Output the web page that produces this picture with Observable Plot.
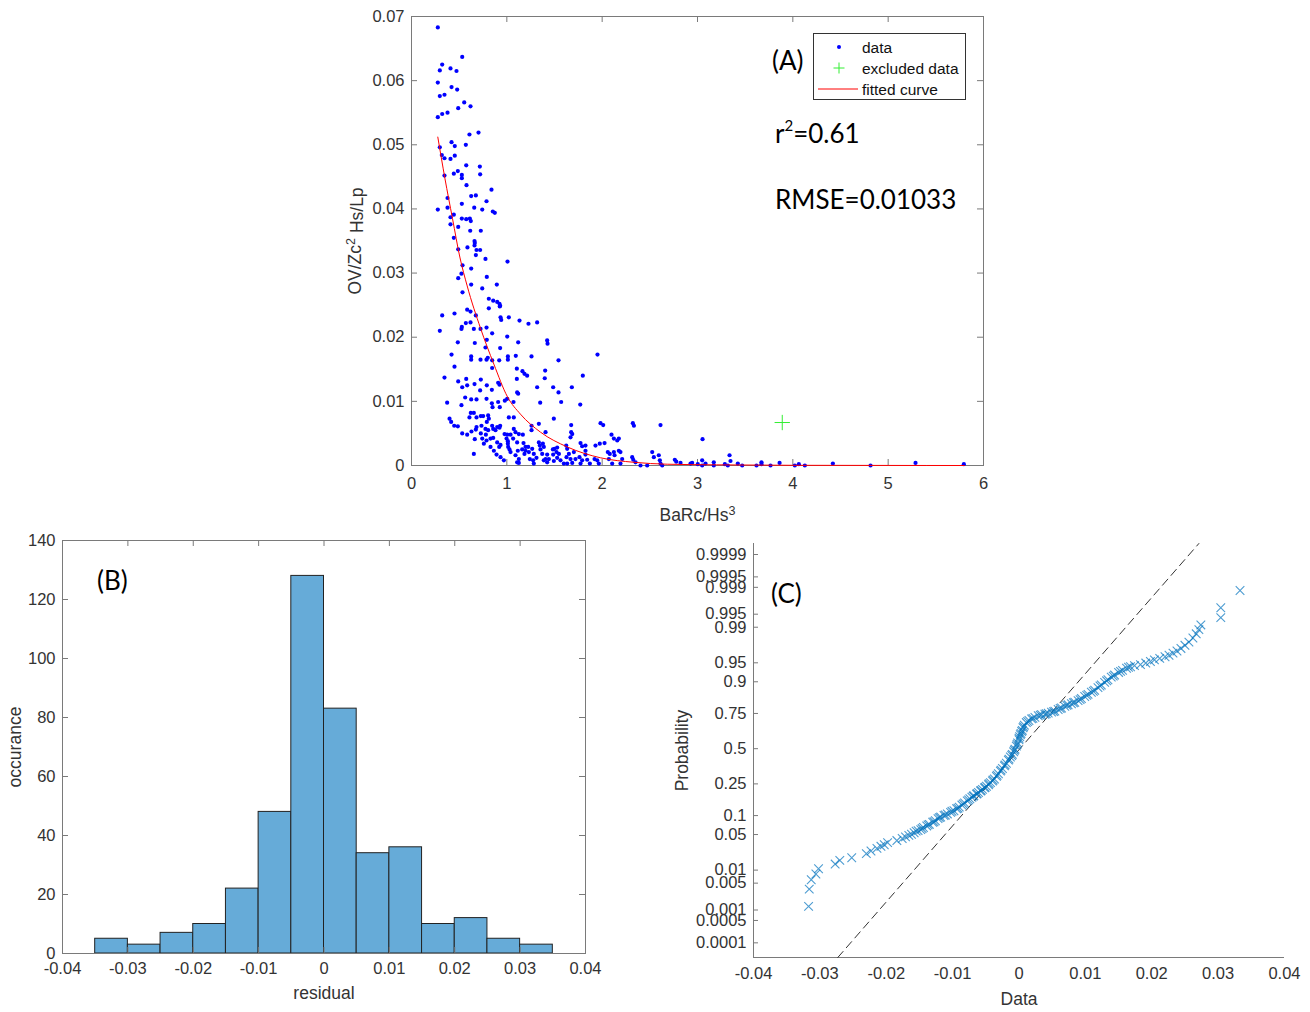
<!DOCTYPE html>
<html><head><meta charset="utf-8">
<script src="https://cdn.jsdelivr.net/npm/d3@7"></script>
<script src="https://cdn.jsdelivr.net/npm/@observablehq/plot@0.6"></script>
<style>
body{margin:0;background:#fff;}
#wrap{position:relative;width:1310px;height:1012px;overflow:hidden;font-family:"Liberation Sans",Arial,sans-serif;}
.panel{position:absolute;}
.ann{position:absolute;font-family:Lato,"Open Sans",sans-serif;font-size:26px;color:#000;line-height:1;white-space:nowrap;}
.ann sup{font-size:15px;position:relative;top:-2px;}
</style></head><body><div id="wrap"></div>
<script>
// ---------------- DATA ----------------
// Panel A: scatter (BaRc/Hs^3, OV/Zc^2 Hs/Lp)
const scatterPoints = [
[0.276,0.0683],[0.532,0.0637],[0.322,0.0625],[0.297,0.0616],[0.409,0.0619],[0.472,0.0615],[0.276,0.0597],[0.420,0.0590],[0.479,0.0586],[0.297,0.0576],[0.346,0.0578],[0.553,0.0566],[0.490,0.0557],[0.619,0.0560],[0.276,0.0543],[0.322,0.0548],[0.378,0.0550],[0.608,0.0516],[0.703,0.0519],[0.420,0.0504],[0.454,0.0498],[0.570,0.0500],[0.297,0.0496],[0.318,0.0484],[0.346,0.0479],[0.409,0.0478],[0.454,0.0483],[0.574,0.0468],[0.717,0.0466],[0.346,0.0452],[0.444,0.0455],[0.486,0.0459],[0.528,0.0453],[0.528,0.0448],[0.720,0.0454],[0.577,0.0437],[0.626,0.0420],[0.675,0.0421],[0.839,0.0430],[0.378,0.0417],[0.787,0.0412],[0.528,0.0408],[0.378,0.0402],[0.658,0.0402],[0.276,0.0399],[0.742,0.0399],[0.853,0.0396],[0.874,0.0394],[0.444,0.0391],[0.409,0.0387],[0.528,0.0385],[0.574,0.0384],[0.612,0.0385],[0.622,0.0381],[0.409,0.0376],[0.490,0.0372],[0.616,0.0366],[0.727,0.0366],[0.444,0.0355],[0.661,0.0350],[0.664,0.0347],[0.661,0.0343],[0.490,0.0337],[0.587,0.0340],[0.682,0.0336],[0.720,0.0336],[0.675,0.0328],[0.776,0.0322],
[0.535,0.0312],[0.490,0.0292],[0.524,0.0299],[0.626,0.0307],[1.007,0.0318],[0.790,0.0294],[0.626,0.0282],[0.742,0.0276],[0.895,0.0282],[0.535,0.0270],[0.811,0.0260],[0.857,0.0257],[0.899,0.0255],[0.923,0.0252],[0.926,0.0248],[0.930,0.0249],[0.811,0.0245],[0.584,0.0243],[0.619,0.0240],[0.451,0.0237],[0.322,0.0234],[0.675,0.0234],[0.934,0.0231],[0.941,0.0227],[1.021,0.0231],[1.133,0.0226],[1.227,0.0221],[1.318,0.0223],[0.570,0.0222],[0.528,0.0216],[0.524,0.0213],[0.619,0.0223],[0.654,0.0213],[0.724,0.0213],[0.787,0.0215],[0.846,0.0206],[0.297,0.0210],[0.486,0.0192],[0.790,0.0196],[1.004,0.0201],[0.664,0.0191],[1.119,0.0192],[1.423,0.0195],[1.427,0.0190],[0.776,0.0184],[0.930,0.0183],[0.420,0.0173],[0.626,0.0170],[0.626,0.0165],[1.011,0.0170],[1.011,0.0165],[1.094,0.0171],[1.259,0.0170],[1.951,0.0173],[0.724,0.0165],[0.787,0.0165],[0.800,0.0168],[0.846,0.0164],[0.920,0.0164],[1.542,0.0164],[0.451,0.0154],[0.846,0.0152],[1.105,0.0151],[1.164,0.0147],[1.185,0.0143],[1.213,0.0140],[1.402,0.0148],[1.797,0.0140],[0.346,0.0137],[0.574,0.0135],[0.727,0.0134],[1.105,0.0135],[1.398,0.0136],[0.490,0.0131],[0.532,0.0122],[0.584,0.0125],[0.661,0.0127],[0.790,0.0125],[0.909,0.0129],[0.923,0.0126],[1.318,0.0122],[1.486,0.0122],[1.682,0.0122],[1.542,0.0114],[0.720,0.0117],[0.843,0.0118],[1.108,0.0114],[1.119,0.0112],[0.563,0.0106],[0.626,0.0103],[0.682,0.0103],[0.787,0.0104],[0.979,0.0101],[1.004,0.0104],[0.524,0.0094],[0.374,0.0098],[0.843,0.0097],[0.909,0.0099],[0.926,0.0091],[1.070,0.0099],[1.350,0.0098],[1.570,0.0099],[1.770,0.0095],[0.850,0.0091],[0.622,0.0082],[0.654,0.0082],[0.399,0.0073],[0.416,0.0068],[0.727,0.0077],[0.752,0.0077],[0.804,0.0078],[1.021,0.0075],[1.073,0.0075],[0.448,0.0062],[0.486,0.0061],[0.608,0.0075],[0.682,0.0075],[0.682,0.0060],[0.734,0.0062],[0.790,0.0068],[0.811,0.0073],[0.846,0.0062],[0.857,0.0057],[0.881,0.0055],[0.899,0.0060],[0.923,0.0059],[0.930,0.0062],[0.776,0.0057],[0.804,0.0055],[0.727,0.0050],[0.780,0.0048],[0.629,0.0053],[0.675,0.0056],[0.532,0.0050],[0.584,0.0048],[0.742,0.0042],[0.787,0.0039],[0.829,0.0042],[0.857,0.0043],[0.664,0.0041],[0.899,0.0036],[0.920,0.0029],[0.934,0.0032],[0.976,0.0049],[1.004,0.0048],[1.039,0.0048],[0.997,0.0042],[1.011,0.0038],[1.011,0.0034],[1.014,0.0029],[1.028,0.0025],[0.654,0.0018],[0.892,0.0017],[1.073,0.0057],[1.091,0.0052],[1.126,0.0049],[1.168,0.0048],[1.066,0.0042],[1.108,0.0036],[1.115,0.0023],[1.175,0.0035],[1.196,0.0029],[1.161,0.0025],[1.108,0.0005],[1.126,0.0004],[1.185,0.0018],[1.259,0.0062],[1.259,0.0055],[1.224,0.0029],[1.231,0.0021],[1.266,0.0026],[1.283,0.0018],[1.311,0.0012],[1.276,0.0008],[1.336,0.0065],[1.336,0.0036],[1.346,0.0031],[1.378,0.0034],[1.353,0.0025],[1.388,0.0029],[1.371,0.0018],[1.406,0.0010],[1.423,0.0005],[1.406,0.0052],[1.493,0.0073],[1.483,0.0025],[1.500,0.0026],[1.528,0.0028],[1.521,0.0021],[1.486,0.0017],[1.528,0.0012],[1.493,0.0007],[1.441,0.0010],[1.623,0.0031],[1.633,0.0026],[1.651,0.0018],[1.626,0.0013],[1.668,0.0010],[1.686,0.0004],[1.633,0.0003],[1.675,0.0052],[1.686,0.0049],[1.668,0.0044],[1.675,0.0063],[1.773,0.0035],[1.790,0.0030],[1.825,0.0031],[1.762,0.0013],[1.790,0.0008],[1.773,0.0003],[1.825,0.0023],[1.825,0.0017],[1.843,0.0009],[1.871,0.0003],[1.930,0.0031],[1.975,0.0034],[2.025,0.0035],[1.948,0.0008],[1.965,0.0003],[1.920,0.0010],[1.983,0.0066],[2.011,0.0063],[2.098,0.0048],[2.123,0.0042],[2.158,0.0039],[2.175,0.0042],
[2.059,0.0021],[2.080,0.0018],[2.123,0.0021],[2.130,0.0016],[2.070,0.0010],[2.105,0.0003],[2.175,0.0023],[2.192,0.0021],[2.210,0.0010],[2.192,0.0003],[2.322,0.0066],[2.333,0.0062],[2.315,0.0013],[2.326,0.0009],[2.350,0.0005],[2.402,0.0000],[2.472,0.0000],[2.525,0.0021],[2.542,0.0013],[2.594,0.0016],[2.605,0.0008],[2.612,0.0003],[2.630,0.0000],[2.612,0.0063],[2.762,0.0009],[2.777,0.0006],[2.822,0.0004],[2.927,0.0003],
[1.039,0.0021],[1.091,0.0016],[1.126,0.0010],[1.196,0.0023],[1.241,0.0010],[1.283,0.0003],[1.388,0.0008],[1.423,0.0017],[1.546,0.0018],[1.563,0.0008],[1.598,0.0003],[1.703,0.0021],[1.720,0.0010],[0.934,0.0013],[0.969,0.0008],[0.864,0.0023],[0.829,0.0029],[0.759,0.0034],
[2.944,0.0004],[3.003,0.0002],[3.049,0.0008],[3.049,0.0000],[3.084,0.0003],[3.053,0.0041],[3.171,0.0005],[3.171,0.0000],[3.287,0.0002],[3.318,0.0000],[3.336,0.0016],[3.346,0.0007],[3.423,0.0003],[3.469,0.0000],[3.619,0.0000],[3.671,0.0005],[3.671,0.0002],[3.766,0.0000],[3.861,0.0004],[4.021,0.0000],[4.063,0.0002],[4.126,0.0000],[4.420,0.0003],[4.815,0.0000],[5.287,0.0004],[5.794,0.0002]
];
const excludedPoints = [[3.889,0.0067]];
const fitX = [0.276,0.35,0.43,0.507,0.584,0.724,0.864,1.007,1.143,1.353,1.633,1.983,2.333,2.682,3.2,4.0,5.0,5.8];
const fitY = [0.0512,0.0448,0.0385,0.0325,0.0280,0.0214,0.0158,0.0107,0.0080,0.0052,0.0029,0.0012,0.0005,0.0002,0.0001,0.00003,0.00001,0.0];
const aXTicks = [0,1,2,3,4,5,6];
const aXLabels = ["0","1","2","3","4","5","6"];
const aYTicks = [0,0.01,0.02,0.03,0.04,0.05,0.06,0.07];
const aYLabels = ["0","0.01","0.02","0.03","0.04","0.05","0.06","0.07"];

// Panel B: histogram of residuals
const binStarts = [-0.035,-0.03,-0.025,-0.02,-0.015,-0.01,-0.005,0,0.005,0.01,0.015,0.02,0.025,0.03];
const binCounts = [5,3,7,10,22,48,128,83,34,36,10,12,5,3];
const binWidth = 0.005;
const bXTicks = [-0.04,-0.03,-0.02,-0.01,0,0.01,0.02,0.03,0.04];
const bXLabels = ["-0.04","-0.03","-0.02","-0.01","0","0.01","0.02","0.03","0.04"];
const bYTicks = [0,20,40,60,80,100,120,140];
const bYLabels = ["0","20","40","60","80","100","120","140"];

// Panel C: normal probability plot (residual, normal quantile)
const qqPoints = [
[-0.0317,-3.02],[-0.0316,-2.69],[-0.0313,-2.51],[-0.0306,-2.40],[-0.0302,-2.30],[-0.0277,-2.21],[-0.0270,-2.14],[-0.0252,-2.09],[-0.0230,-2.01],[-0.0223,-1.96],[-0.0214,-1.91],[-0.0208,-1.87],[-0.0203,-1.84],[-0.0198,-1.80],[-0.0184,-1.76],[-0.0176,-1.72],[-0.0171,-1.69],[-0.0166,-1.66],[-0.0162,-1.64],[-0.0158,-1.61],[-0.0152,-1.57],[-0.0148,-1.55],[-0.0144,-1.51],[-0.0139,-1.48],[-0.0135,-1.45],[-0.0130,-1.41],[-0.0126,-1.38],[-0.0122,-1.34],[-0.0118,-1.31],[-0.0113,-1.28],[-0.0108,-1.25],[-0.0103,-1.22],[-0.0098,-1.19],[-0.0094,-1.15],[-0.0090,-1.12],[-0.0086,-1.08],[-0.0082,-1.04],[-0.0078,-1.00],[-0.0074,-0.96],[-0.0071,-0.93],[-0.0068,-0.90],[-0.0064,-0.87],[-0.0061,-0.84],[-0.0058,-0.81],[-0.0055,-0.78],[-0.0052,-0.75],[-0.0049,-0.72],[-0.0046,-0.69],[-0.0043,-0.65],[-0.0040,-0.62],[-0.0037,-0.58],[-0.0034,-0.53],[-0.0031,-0.48],[-0.0028,-0.43],[-0.0025,-0.38],[-0.0022,-0.33],[-0.0019,-0.28],[-0.0016,-0.22],[-0.0013,-0.16],[-0.0010,-0.11],[-0.0008,-0.06],[-0.0006,-0.01],[-0.0004,0.05],[-0.0002,0.11],[0.0000,0.17],[0.0001,0.23],[0.0003,0.29],[0.0005,0.35],[0.0006,0.40],[0.0008,0.45],[0.0011,0.50],[0.0015,0.54],[0.0019,0.57],[0.0024,0.60],[0.0029,0.63],[0.0034,0.65],[0.0039,0.66],[0.0044,0.68],[0.0049,0.70],[0.0054,0.72],[0.0059,0.75],[0.0064,0.78],[0.0069,0.81],[0.0074,0.84],[0.0079,0.86],[0.0084,0.89],[0.0089,0.92],[0.0094,0.96],[0.0099,1.00],[0.0104,1.04],[0.0109,1.08],[0.0114,1.12],[0.0119,1.17],[0.0124,1.22],[0.0129,1.27],[0.0134,1.32],[0.0139,1.37],[0.0144,1.41],[0.0150,1.46],[0.0156,1.50],[0.0162,1.54],[0.0168,1.57],[0.0174,1.59],[0.0183,1.61],[0.0191,1.64],[0.0198,1.67],[0.0204,1.70],[0.0212,1.73],[0.0220,1.76],[0.0226,1.79],[0.0232,1.83],[0.0238,1.87],[0.0244,1.92],[0.0250,1.98],[0.0256,2.04],[0.0262,2.12],[0.0267,2.20],[0.0271,2.28],[0.0274,2.37],[0.0304,2.51],[0.0304,2.70],[0.0333,3.03],
[-0.0155,-1.58],[-0.0146,-1.53],[-0.0137,-1.46],[-0.0128,-1.40],[-0.0120,-1.32],[-0.0111,-1.27],[-0.0101,-1.20],[-0.0092,-1.14],[-0.0084,-1.06],[-0.0076,-0.98],[-0.0069,-0.91],[-0.0063,-0.86],[-0.0057,-0.80],[-0.0051,-0.74],[-0.0045,-0.67],[-0.0039,-0.60],[-0.0033,-0.51],[-0.0027,-0.41],[-0.0021,-0.31],[-0.0015,-0.20],[-0.0011,-0.13],[-0.0007,-0.03],[-0.0003,0.08],[0.0000,0.20],[0.0002,0.27],[0.0004,0.33],[0.0007,0.42],[0.0013,0.52],[0.0021,0.58],[0.0032,0.64],[0.0041,0.67],[0.0052,0.71],[0.0062,0.77],[0.0072,0.83],[0.0082,0.88],[0.0092,0.94],[0.0102,1.02],[0.0112,1.10],[0.0122,1.20],[0.0132,1.30],[0.0142,1.39],[0.0153,1.48],[0.0165,1.56]
];
const refLineX = [-0.0273, 0.0271];
const refLineZ = [-4.00, 3.93];
const cXTicks = [-0.04,-0.03,-0.02,-0.01,0,0.01,0.02,0.03,0.04];
const cXLabels = ["-0.04","-0.03","-0.02","-0.01","0","0.01","0.02","0.03","0.04"];
const probTicks = [0.0001,0.0005,0.001,0.005,0.01,0.05,0.1,0.25,0.5,0.75,0.9,0.95,0.99,0.995,0.999,0.9995,0.9999];
const probLabels = ["0.0001","0.0005","0.001","0.005","0.01","0.05","0.1","0.25","0.5","0.75","0.9","0.95","0.99","0.995","0.999","0.9995","0.9999"];

// ---------------- HELPERS ----------------
function probit(p){
  const a=[-3.969683028665376e+01,2.209460984245205e+02,-2.759285104469687e+02,1.383577518672690e+02,-3.066479806614716e+01,2.506628277459239e+00];
  const b=[-5.447609879822406e+01,1.615858368580409e+02,-1.556989798598866e+02,6.680131188771972e+01,-1.328068155288572e+01];
  const c=[-7.784894002430293e-03,-3.223964580411365e-01,-2.400758277161838e+00,-2.549732539343734e+00,4.374664141464968e+00,2.938163982698783e+00];
  const d=[7.784695709041462e-03,3.224671290700398e-01,2.445134137142996e+00,3.754408661907416e+00];
  const pl=0.02425, ph=1-pl; let q,r;
  if(p<pl){q=Math.sqrt(-2*Math.log(p));return (((((c[0]*q+c[1])*q+c[2])*q+c[3])*q+c[4])*q+c[5])/((((d[0]*q+d[1])*q+d[2])*q+d[3])*q+1);}
  if(p<=ph){q=p-0.5;r=q*q;return (((((a[0]*r+a[1])*r+a[2])*r+a[3])*r+a[4])*r+a[5])*q/(((((b[0]*r+b[1])*r+b[2])*r+b[3])*r+b[4])*r+1);}
  q=Math.sqrt(-2*Math.log(1-p));return -(((((c[0]*q+c[1])*q+c[2])*q+c[3])*q+c[4])*q+c[5])/((((d[0]*q+d[1])*q+d[2])*q+d[3])*q+1);
}
const labeler = (ticks, labels) => { const m = new Map(ticks.map((t,i)=>[t,labels[i]])); return d => m.get(d); };
const AX = "#7a7a7a";
const TXT = "#333";
const FONT = "Liberation Sans, Arial, sans-serif";
const wrap = document.getElementById("wrap");
function place(el, left, top){ const d=document.createElement("div"); d.className="panel"; d.style.left=left+"px"; d.style.top=top+"px"; d.appendChild(el); wrap.appendChild(d); return d; }
function ann(html, left, top){ const d=document.createElement("div"); d.className="ann"; d.style.left=left+"px"; d.style.top=top+"px"; d.innerHTML=html; wrap.appendChild(d); }
function inTicks(xT, yT, iw, ih, len, sides){
  const m=[];
  if(sides.includes("b")) m.push(Plot.tickX(xT,{x:d=>d, insetTop:ih-len, stroke:AX}));
  if(sides.includes("t")) m.push(Plot.tickX(xT,{x:d=>d, insetBottom:ih-len, stroke:AX}));
  if(sides.includes("l")) m.push(Plot.tickY(yT,{y:d=>d, insetRight:iw-len, stroke:AX}));
  if(sides.includes("r")) m.push(Plot.tickY(yT,{y:d=>d, insetLeft:iw-len, stroke:AX}));
  return m;
}
// turn "²"/"³" characters in SVG label texts into raised tspans
function superscripts(svg){
  d3.select(svg).selectAll("text").each(function(){
    const t=this.textContent;
    const m=t.match(/^(.*?)([²³])(.*)$/);
    if(!m || this.querySelector("tspan")) return;
    const sel=d3.select(this); sel.text(null);
    sel.append("tspan").text(m[1]);
    sel.append("tspan").attr("dy","-0.45em").attr("font-size","0.72em").text(m[2]==="²"?"2":"3");
    if(m[3]) sel.append("tspan").attr("dy","0.45em").text(m[3]);
  });
}
const labelStyle = {fontSize:17.5, fill:TXT, textAnchor:"middle", lineAnchor:"middle"};

// ---------------- PANEL A ----------------
{
  const W=680,H=530,ML=81,MR=27,MT=16,MB=65;
  const iw=W-ML-MR, ih=H-MT-MB;
  const fit = fitX.map((x,i)=>({x, y:fitY[i]}));
  const pts = scatterPoints.map(([x,y])=>({x,y}));
  const exc = excludedPoints.map(([x,y])=>({x,y}));
  const svg = Plot.plot({
    width:W,height:H,marginLeft:ML,marginRight:MR,marginTop:MT,marginBottom:MB,
    style:{fontFamily:FONT,fontSize:"16.5px",color:TXT,background:"transparent",overflow:"visible"},
    x:{domain:[0,6]}, y:{domain:[0,0.07]},
    marks:[
      Plot.frame({stroke:AX}),
      ...inTicks(aXTicks,aYTicks,iw,ih,6,"btlr"),
      Plot.axisX({ticks:aXTicks,tickSize:0,tickPadding:12,tickFormat:labeler(aXTicks,aXLabels),label:null}),
      Plot.axisY({ticks:aYTicks,tickSize:0,tickPadding:7,tickFormat:labeler(aYTicks,aYLabels),label:null}),
      Plot.dot(pts,{x:"x",y:"y",r:2.1,fill:"#0000ff",stroke:null}),
      Plot.dot(exc,{x:"x",y:"y",symbol:"plus",r:5,stroke:"#33ee33",strokeWidth:1}),
      Plot.line(fit,{x:"x",y:"y",stroke:"#ff0000",strokeWidth:1,curve:"monotone-x"}),
      Plot.text(["OV/Zc² Hs/Lp"],{frameAnchor:"left",dx:-56,rotate:-90,...labelStyle}),
      Plot.text(["BaRc/Hs³"],{frameAnchor:"bottom",dy:50,...labelStyle})
    ]
  });
  superscripts(svg);
  place(svg,330,0);
}

// Legend for A
{
  const d=document.createElement("div");
  d.style.cssText="position:absolute;left:813px;top:33px;width:151px;height:65px;border:1px solid #333;background:#fff;";
  d.innerHTML=`<svg width="151" height="65" style="position:absolute;left:0;top:0">
    <circle cx="25" cy="13" r="2" fill="#0000ff"/>
    <path d="M19.5 34 H30.5 M25 28.5 V39.5" stroke="#33ee33" stroke-width="1"/>
    <line x1="4" x2="44" y1="55" y2="55" stroke="#ff0000" stroke-width="1"/>
    <g font-family="Liberation Sans, Arial, sans-serif" font-size="15.5" fill="#111">
      <text x="48" y="18.5">data</text>
      <text x="48" y="40">excluded data</text>
      <text x="48" y="61">fitted curve</text>
    </g></svg>`;
  wrap.appendChild(d);
}
ann("(A)",772,47);
ann("r<sup>2</sup>=0.61",775,120);
ann("RMSE=0.01033",775,186);

// ---------------- PANEL B ----------------
{
  const W=610,H=487,ML=62,MR=25,MT=15,MB=59;
  const iw=W-ML-MR, ih=H-MT-MB;
  const bins = binStarts.map((s,i)=>({x1:s,x2:s+binWidth,count:binCounts[i]}));
  const svg = Plot.plot({
    width:W,height:H,marginLeft:ML,marginRight:MR,marginTop:MT,marginBottom:MB,
    style:{fontFamily:FONT,fontSize:"16.5px",color:TXT,background:"transparent",overflow:"visible"},
    x:{domain:[-0.04,0.04]}, y:{domain:[0,140]},
    marks:[
      Plot.rectY(bins,{x1:"x1",x2:"x2",y:"count",fill:"#66abd8",stroke:"#222",strokeWidth:1}),
      Plot.frame({stroke:AX}),
      ...inTicks(bXTicks,bYTicks,iw,ih,6,"btlr"),
      Plot.axisX({ticks:bXTicks,tickSize:0,tickPadding:9,tickFormat:labeler(bXTicks,bXLabels),label:null}),
      Plot.axisY({ticks:bYTicks,tickSize:0,tickPadding:7,tickFormat:labeler(bYTicks,bYLabels),label:null}),
      Plot.text(["occurance"],{frameAnchor:"left",dx:-47,rotate:-90,...labelStyle}),
      Plot.text(["residual"],{frameAnchor:"bottom",dy:40,...labelStyle})
    ]
  });
  place(svg,0,525);
}
ann("(B)",97,567);

// ---------------- PANEL C ----------------
{
  const W=650,H=482,ML=93,MR=26,MT=13,MB=55;
  const iw=W-ML-MR, ih=H-MT-MB;
  const zTicks = probTicks.map(probit);
  const zLabel = new Map(zTicks.map((z,i)=>[z,probLabels[i]]));
  const qq = qqPoints.map(([x,z])=>({x,z}));
  const ref = refLineX.map((x,i)=>({x,z:refLineZ[i]}));
  const svg = Plot.plot({
    width:W,height:H,marginLeft:ML,marginRight:MR,marginTop:MT,marginBottom:MB,
    style:{fontFamily:FONT,fontSize:"16.5px",color:TXT,background:"transparent",overflow:"visible"},
    x:{domain:[-0.04,0.04]}, y:{domain:[-4.00,3.93]},
    marks:[
      Plot.ruleX([-0.04],{stroke:AX}),
      Plot.ruleY([-4.00],{stroke:AX}),
      Plot.tickY(zTicks,{y:d=>d, insetRight:iw-5, stroke:AX}),
      Plot.axisX({ticks:cXTicks,tickSize:0,tickPadding:10,tickFormat:labeler(cXTicks,cXLabels),label:null}),
      Plot.axisY({ticks:zTicks,tickSize:0,tickPadding:7,tickFormat:d=>zLabel.get(d),label:null}),
      Plot.line(ref,{x:"x",y:"z",stroke:"#333",strokeWidth:1,strokeDasharray:"8,5"}),
      Plot.dot(qq,{x:"x",y:"z",symbol:"times",r:4,stroke:"#0072bd",strokeOpacity:0.7,strokeWidth:1.1}),
      Plot.text(["Probability"],{frameAnchor:"left",dx:-71,rotate:-90,...labelStyle}),
      Plot.text(["Data"],{frameAnchor:"bottom",dy:42,...labelStyle})
    ]
  });
  place(svg,660,530);
}
ann("(C)",771,580);
</script></body></html>
